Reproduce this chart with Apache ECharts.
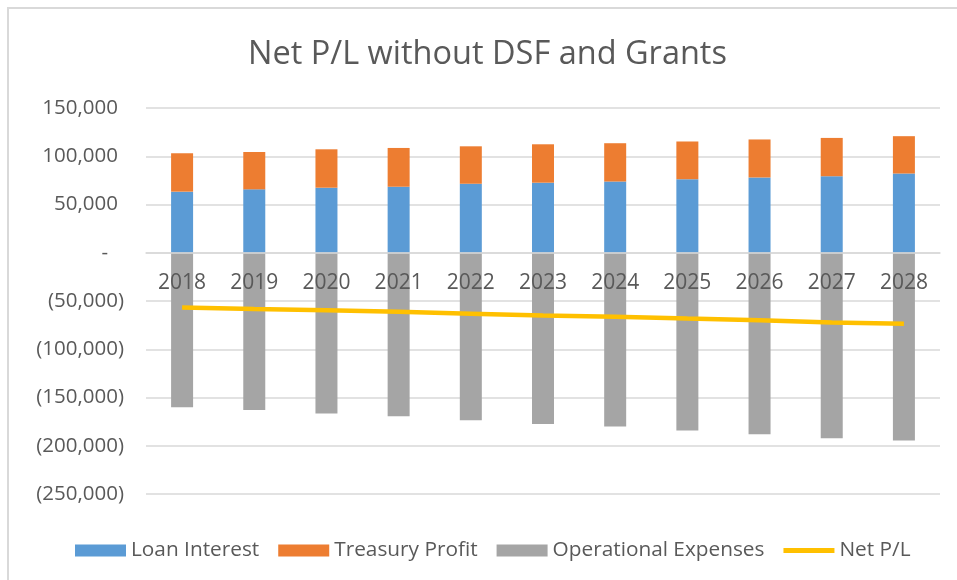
<!DOCTYPE html>
<html>
<head>
<meta charset="utf-8">
<script src="https://cdn.jsdelivr.net/npm/echarts@6/dist/echarts.min.js"></script>
<style>
  html, body { margin: 0; padding: 0; background: #fff; }
  #chart { width: 957px; height: 580px; }
</style>
</head>
<body>
<div id="chart"></div>
<script>
// data
var years = ['2018', '2019', '2020', '2021', '2022', '2023', '2024', '2025', '2026', '2027', '2028'];
var loanInterest = [63300, 65700, 67400, 68400, 71500, 72600, 73800, 76200, 78000, 79300, 82100];
var treasuryProfit = [39800, 38700, 39800, 40200, 38800, 39800, 39700, 39100, 39400, 39700, 38700];
var operationalExpenses = [-160100, -162900, -166600, -169400, -173600, -177500, -180100, -184300, -188100, -192300, -194600];
var netPL = [-56700, -58200, -59500, -61200, -63100, -65000, -66200, -68100, -69900, -72300, -73700];

var yMin = -250000, yMax = 150000;
var textColor = '#595959';
var font = '"Open Sans", sans-serif';

var gridTop = 108, gridBottom = 86, chartHeight = 580;
// category axis sits on the zero line
var plotHeight = chartHeight - gridTop - gridBottom;
var zeroOffset = -plotHeight * (0 - yMin) / (yMax - yMin);

function fmt(v) {
    if (v === 0) return '{z|-}';
    var s = Math.abs(v).toString().replace(/\B(?=(\d{3})+(?!\d))/g, ',');
    return v < 0 ? '{n|(' + s + ')}' : '{p|' + s + '}';
}

var chart = echarts.init(document.getElementById('chart'));

chart.setOption({
    backgroundColor: '#fff',
    textStyle: { fontFamily: font },
    title: {
        text: 'Net P/L without DSF and Grants',
        left: 243,
        top: 33,
        textStyle: { color: textColor, fontSize: 32.5, fontWeight: 'normal', fontFamily: font }
    },
    graphic: [{
        type: 'rect',
        shape: { x: 8, y: 8, width: 1200, height: 1200 },
        style: { fill: null, stroke: '#d9d9d9', lineWidth: 2 },
        silent: true
    }],
    legend: {
        top: 535,
        left: 70,
        itemWidth: 51,
        itemHeight: 12,
        itemGap: 19,
        textStyle: { color: textColor, fontSize: 20.8, fontFamily: font },
        data: [
            { name: 'Loan Interest', icon: 'rect' },
            { name: 'Treasury Profit', icon: 'rect' },
            { name: 'Operational Expenses', icon: 'rect' },
            { name: 'Net P/L', icon: 'path://M0,0 L50,0 L50,5 L0,5 Z' }
        ]
    },
    grid: { left: 146, right: 17, top: gridTop, bottom: gridBottom },
    xAxis: {
        type: 'category',
        data: years,
        position: 'bottom',
        offset: zeroOffset,
        z: 10,
        axisLine: { onZero: false, lineStyle: { color: '#d9d9d9', width: 1.5 } },
        axisTick: { show: false },
        axisLabel: { color: textColor, fontSize: 21, margin: 20, fontFamily: font }
    },
    yAxis: {
        type: 'value',
        min: yMin,
        max: yMax,
        interval: 50000,
        axisLine: { show: false },
        axisTick: { show: false },
        splitLine: { lineStyle: { color: '#d9d9d9', width: 1.5 } },
        axisLabel: {
            margin: 22,
            formatter: fmt,
            rich: {
                p: { color: textColor, fontSize: 20.5, fontFamily: font, padding: [0, 6, 0, 0] },
                n: { color: textColor, fontSize: 20.5, fontFamily: font },
                z: { color: textColor, fontSize: 20.5, fontFamily: font, padding: [0, 16, 0, 0] }
            }
        }
    },
    series: [
        {
            name: 'Loan Interest',
            type: 'bar',
            stack: 'pl',
            barWidth: 22,
            itemStyle: { color: '#5B9BD5' },
            data: loanInterest
        },
        {
            name: 'Treasury Profit',
            type: 'bar',
            stack: 'pl',
            itemStyle: { color: '#ED7D31' },
            data: treasuryProfit
        },
        {
            name: 'Operational Expenses',
            type: 'bar',
            stack: 'pl',
            itemStyle: { color: '#A5A5A5' },
            data: operationalExpenses
        },
        {
            name: 'Net P/L',
            type: 'line',
            symbol: 'none',
            lineStyle: { color: '#FFC000', width: 4.5 },
            itemStyle: { color: '#FFC000' },
            data: netPL,
            z: 5
        }
    ]
});
</script>
</body>
</html>
